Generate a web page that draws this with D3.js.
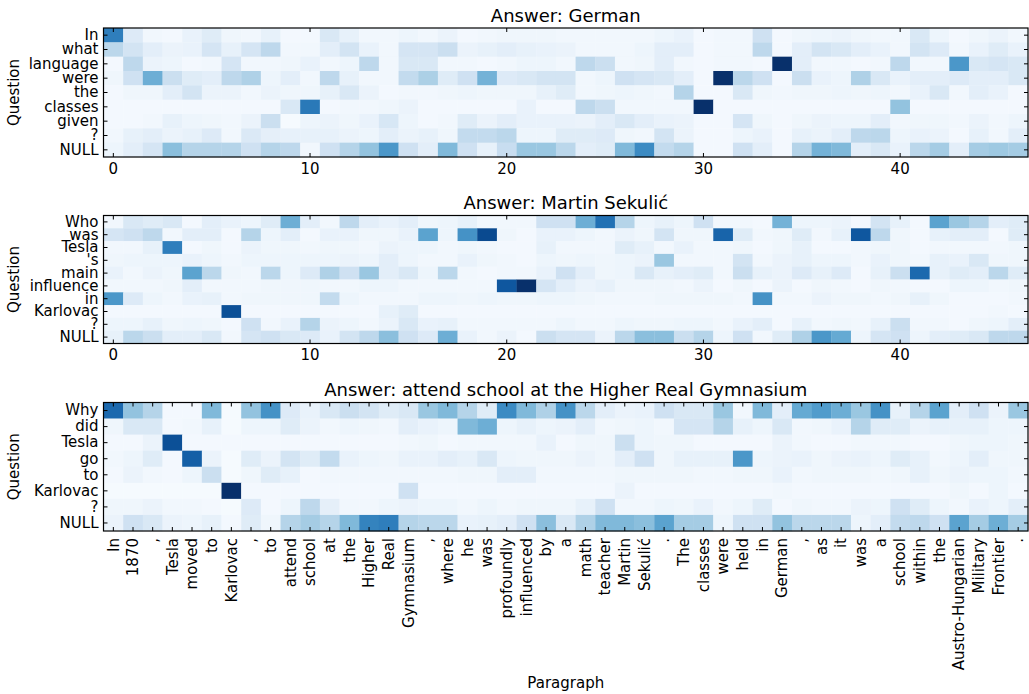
<!DOCTYPE html>
<html>
<head>
<meta charset="utf-8">
<script src="https://cdn.jsdelivr.net/npm/d3@7"></script>
<style>
  html, body { margin: 0; padding: 0; background: #fff; }
  svg { display: block; font-family: "DejaVu Sans", sans-serif; }
</style>
</head>
<body>
<svg id="chart" width="1029" height="694"></svg>
<script>
// Attention heatmaps: question words (rows) vs. paragraph tokens (columns)
const paragraphTokens = ['In', '1870', ',', 'Tesla', 'moved', 'to', 'Karlovac', ',', 'to', 'attend',
  'school', 'at', 'the', 'Higher', 'Real', 'Gymnasium', ',', 'where', 'he', 'was', 'profoundly',
  'influenced', 'by', 'a', 'math', 'teacher', 'Martin', 'Sekulić', '.', 'The', 'classes', 'were',
  'held', 'in', 'German', ',', 'as', 'it', 'was', 'a', 'school', 'within', 'the', 'Austro-Hungarian',
  'Military', 'Frontier', '.'];

const numberTicks = [0, 10, 20, 30, 40];

const germanTitle = 'Answer: German';
const germanQuestion = ['In', 'what', 'language', 'were', 'the', 'classes', 'given', '?', 'NULL'];
const germanWeights = [
  [0.7,0.13,0.03,0.02,0.07,0.12,0.04,0.03,0.08,0.02,0.02,0.15,0.08,0.03,0.03,0.05,
   0.03,0.06,0.02,0.03,0.04,0.04,0.04,0.03,0.03,0.03,0.03,0.03,0.05,0.07,0.02,
   0.03,0.03,0.2,0.02,0.04,0.05,0.06,0.04,0.03,0.03,0.15,0.05,0.02,0.04,0.06,0.03],
  [0.28,0.18,0.1,0.06,0.07,0.17,0.08,0.17,0.27,0.03,0.03,0.1,0.18,0.07,0.03,0.17,
   0.17,0.22,0.06,0.08,0.1,0.08,0.07,0.06,0.03,0.03,0.03,0.05,0.1,0.1,0.02,
   0.03,0.03,0.27,0.02,0.1,0.18,0.15,0.1,0.07,0.03,0.18,0.13,0.03,0.07,0.12,0.07],
  [0.02,0.27,0.06,0.05,0.02,0.03,0.17,0.03,0.03,0.04,0.07,0.03,0.05,0.27,0.03,0.15,
   0.15,0.03,0.03,0.02,0.03,0.05,0.05,0.03,0.27,0.22,0.03,0.04,0.1,0.03,0.02,
   0.03,0.03,0.02,1.0,0.1,0.03,0.03,0.02,0.03,0.27,0.03,0.03,0.6,0.15,0.17,0.15],
  [0.04,0.2,0.5,0.22,0.12,0.1,0.27,0.32,0.05,0.1,0.03,0.27,0.08,0.03,0.03,0.25,
   0.33,0.12,0.2,0.48,0.13,0.15,0.18,0.18,0.03,0.05,0.2,0.17,0.15,0.1,0.02,
   1.0,0.28,0.2,0.02,0.22,0.07,0.05,0.32,0.15,0.07,0.1,0.1,0.13,0.1,0.1,0.15],
  [0.02,0.04,0.04,0.1,0.18,0.06,0.06,0.03,0.06,0.04,0.04,0.08,0.15,0.06,0.02,0.03,
   0.03,0.04,0.05,0.04,0.04,0.04,0.08,0.12,0.03,0.04,0.05,0.04,0.03,0.3,0.02,
   0.02,0.15,0.04,0.03,0.04,0.04,0.05,0.04,0.05,0.03,0.07,0.15,0.03,0.1,0.07,0.02],
  [0.02,0.02,0.02,0.02,0.02,0.02,0.02,0.02,0.02,0.15,0.72,0.02,0.03,0.03,0.04,0.06,
   0.02,0.02,0.02,0.02,0.02,0.07,0.02,0.02,0.27,0.22,0.03,0.03,0.03,0.03,1.0,
   0.02,0.02,0.02,0.02,0.02,0.02,0.02,0.02,0.02,0.4,0.02,0.02,0.02,0.02,0.02,0.02],
  [0.02,0.02,0.03,0.08,0.05,0.04,0.03,0.06,0.22,0.01,0.05,0.06,0.04,0.07,0.16,0.05,
   0.02,0.03,0.12,0.06,0.1,0.07,0.07,0.07,0.06,0.1,0.15,0.1,0.07,0.06,0.02,
   0.02,0.17,0.04,0.02,0.04,0.06,0.05,0.05,0.1,0.03,0.04,0.04,0.03,0.06,0.03,0.05],
  [0.03,0.08,0.1,0.06,0.08,0.13,0.03,0.14,0.09,0.08,0.08,0.08,0.06,0.05,0.1,0.06,
   0.08,0.04,0.25,0.25,0.28,0.05,0.05,0.12,0.12,0.13,0.04,0.03,0.18,0.06,0.02,
   0.02,0.05,0.07,0.02,0.08,0.06,0.1,0.27,0.28,0.05,0.07,0.06,0.02,0.08,0.03,0.1],
  [0.05,0.1,0.17,0.42,0.3,0.3,0.3,0.2,0.3,0.27,0.03,0.2,0.3,0.4,0.6,0.2,
   0.1,0.45,0.2,0.08,0.23,0.38,0.38,0.28,0.1,0.12,0.45,0.65,0.25,0.3,0.02,
   0.02,0.2,0.1,0.02,0.3,0.48,0.45,0.1,0.15,0.07,0.28,0.35,0.1,0.35,0.37,0.35]
];

const sekulicTitle = 'Answer: Martin Sekulić';
const sekulicQuestion = ['Who', 'was', 'Tesla', "'s", 'main', 'influence', 'in', 'Karlovac', '?', 'NULL'];
const sekulicWeights = [
  [0.03,0.15,0.12,0.15,0.02,0.1,0.07,0.05,0.12,0.5,0.1,0.03,0.27,0.1,0.07,0.1,
   0.04,0.05,0.08,0.03,0.03,0.03,0.2,0.2,0.5,0.75,0.3,0.05,0.08,0.05,0.2,
   0.03,0.03,0.02,0.48,0.05,0.05,0.06,0.02,0.18,0.08,0.02,0.55,0.38,0.3,0.1,0.12],
  [0.17,0.2,0.27,0.03,0.1,0.1,0.02,0.3,0.05,0.1,0.02,0.07,0.07,0.04,0.04,0.07,
   0.55,0.05,0.62,0.9,0.04,0.02,0.07,0.07,0.05,0.03,0.06,0.04,0.18,0.04,0.04,
   0.8,0.12,0.03,0.04,0.12,0.03,0.08,0.85,0.27,0.04,0.02,0.08,0.1,0.1,0.02,0.12],
  [0.03,0.03,0.08,0.7,0.02,0.04,0.02,0.06,0.04,0.04,0.03,0.04,0.04,0.03,0.06,0.05,
   0.05,0.03,0.04,0.03,0.02,0.02,0.08,0.03,0.03,0.03,0.12,0.08,0.03,0.07,0.03,
   0.03,0.04,0.02,0.04,0.08,0.02,0.02,0.03,0.04,0.04,0.02,0.03,0.03,0.03,0.03,0.04],
  [0.04,0.05,0.05,0.05,0.07,0.05,0.03,0.05,0.05,0.05,0.05,0.05,0.06,0.05,0.1,0.05,
   0.03,0.03,0.07,0.04,0.03,0.02,0.05,0.04,0.05,0.04,0.05,0.06,0.38,0.03,0.03,
   0.03,0.18,0.03,0.06,0.08,0.05,0.05,0.03,0.07,0.04,0.03,0.08,0.07,0.15,0.04,0.04],
  [0.07,0.03,0.06,0.04,0.55,0.28,0.04,0.03,0.28,0.05,0.13,0.32,0.2,0.38,0.1,0.15,
   0.05,0.28,0.03,0.02,0.03,0.03,0.07,0.2,0.1,0.04,0.05,0.15,0.08,0.1,0.12,
   0.03,0.22,0.08,0.06,0.13,0.08,0.13,0.02,0.08,0.22,0.78,0.08,0.12,0.1,0.28,0.12],
  [0.03,0.03,0.03,0.04,0.1,0.03,0.03,0.03,0.04,0.04,0.04,0.03,0.03,0.05,0.05,0.03,
   0.03,0.03,0.03,0.03,0.85,1.0,0.17,0.1,0.06,0.08,0.04,0.04,0.04,0.03,0.06,
   0.02,0.04,0.02,0.06,0.02,0.04,0.03,0.02,0.04,0.03,0.02,0.02,0.05,0.05,0.03,0.04],
  [0.6,0.13,0.05,0.03,0.07,0.08,0.03,0.04,0.04,0.04,0.04,0.25,0.05,0.03,0.03,0.03,
   0.05,0.05,0.04,0.05,0.04,0.04,0.05,0.05,0.04,0.03,0.03,0.03,0.04,0.04,0.04,
   0.04,0.03,0.62,0.03,0.03,0.06,0.04,0.04,0.03,0.04,0.08,0.04,0.02,0.02,0.02,0.03],
  [0.02,0.02,0.02,0.02,0.02,0.02,0.88,0.02,0.02,0.02,0.02,0.02,0.02,0.02,0.08,0.12,
   0.02,0.02,0.02,0.02,0.02,0.02,0.02,0.02,0.02,0.02,0.02,0.02,0.02,0.02,0.02,
   0.02,0.02,0.02,0.02,0.02,0.02,0.02,0.02,0.02,0.02,0.02,0.02,0.02,0.02,0.03,0.02],
  [0.05,0.05,0.08,0.04,0.05,0.04,0.02,0.2,0.03,0.07,0.3,0.06,0.05,0.03,0.06,0.15,
   0.07,0.08,0.03,0.03,0.03,0.03,0.03,0.05,0.03,0.03,0.05,0.04,0.04,0.05,0.05,
   0.03,0.07,0.1,0.02,0.08,0.03,0.04,0.03,0.08,0.22,0.03,0.03,0.02,0.04,0.05,0.1],
  [0.08,0.28,0.22,0.1,0.1,0.15,0.03,0.17,0.2,0.15,0.13,0.07,0.18,0.27,0.42,0.2,
   0.13,0.5,0.07,0.03,0.06,0.02,0.22,0.17,0.17,0.06,0.28,0.42,0.42,0.22,0.3,
   0.05,0.2,0.03,0.12,0.32,0.6,0.52,0.05,0.17,0.2,0.05,0.1,0.12,0.15,0.27,0.27]
];

const schoolTitle = 'Answer: attend school at the Higher Real Gymnasium';
const schoolQuestion = ['Why', 'did', 'Tesla', 'go', 'to', 'Karlovac', '?', 'NULL'];
const schoolWeights = [
  [0.78,0.4,0.3,0.02,0.02,0.45,0.01,0.4,0.62,0.13,0.07,0.15,0.22,0.18,0.12,0.15,
   0.38,0.45,0.3,0.12,0.65,0.45,0.32,0.62,0.28,0.1,0.06,0.07,0.2,0.15,0.15,
   0.38,0.03,0.45,0.1,0.52,0.58,0.5,0.38,0.62,0.08,0.3,0.55,0.1,0.2,0.06,0.38],
  [0.04,0.15,0.15,0.02,0.03,0.08,0.01,0.05,0.05,0.12,0.06,0.03,0.05,0.04,0.03,0.1,
   0.07,0.05,0.45,0.5,0.05,0.08,0.05,0.06,0.1,0.03,0.04,0.05,0.03,0.17,0.17,
   0.3,0.08,0.05,0.15,0.03,0.04,0.07,0.3,0.12,0.12,0.06,0.08,0.08,0.08,0.05,0.05],
  [0.02,0.02,0.06,0.88,0.02,0.02,0.02,0.02,0.02,0.02,0.02,0.02,0.02,0.02,0.02,0.03,
   0.04,0.02,0.03,0.03,0.03,0.03,0.07,0.02,0.04,0.04,0.22,0.05,0.04,0.04,0.02,
   0.02,0.02,0.02,0.06,0.03,0.02,0.02,0.03,0.03,0.03,0.02,0.02,0.04,0.05,0.05,0.04],
  [0.03,0.05,0.12,0.02,0.82,0.06,0.01,0.12,0.06,0.18,0.12,0.25,0.07,0.05,0.04,0.07,
   0.07,0.1,0.08,0.15,0.05,0.04,0.04,0.04,0.06,0.04,0.1,0.2,0.04,0.08,0.08,
   0.08,0.6,0.05,0.06,0.07,0.04,0.06,0.07,0.05,0.12,0.08,0.03,0.05,0.1,0.04,0.04],
  [0.02,0.06,0.03,0.02,0.05,0.22,0.01,0.04,0.12,0.08,0.02,0.03,0.03,0.03,0.03,0.03,
   0.03,0.03,0.04,0.04,0.1,0.1,0.03,0.03,0.03,0.03,0.04,0.04,0.04,0.04,0.03,
   0.03,0.04,0.04,0.07,0.03,0.04,0.04,0.04,0.03,0.04,0.08,0.04,0.06,0.05,0.05,0.03],
  [0.01,0.01,0.01,0.01,0.01,0.01,1.0,0.02,0.02,0.02,0.02,0.02,0.02,0.02,0.02,0.2,
   0.02,0.02,0.02,0.02,0.02,0.02,0.02,0.02,0.02,0.02,0.06,0.02,0.02,0.02,0.02,
   0.02,0.02,0.02,0.03,0.02,0.02,0.02,0.02,0.02,0.02,0.02,0.02,0.04,0.02,0.05,0.02],
  [0.04,0.04,0.06,0.03,0.03,0.02,0.01,0.13,0.02,0.05,0.27,0.09,0.03,0.03,0.05,0.06,
   0.05,0.05,0.03,0.05,0.03,0.04,0.04,0.04,0.08,0.2,0.03,0.03,0.05,0.04,0.07,
   0.03,0.05,0.12,0.02,0.04,0.03,0.03,0.06,0.05,0.2,0.12,0.05,0.03,0.07,0.05,0.1],
  [0.06,0.2,0.15,0.06,0.05,0.08,0.02,0.12,0.04,0.3,0.35,0.3,0.45,0.68,0.7,0.3,
   0.28,0.28,0.07,0.08,0.1,0.2,0.42,0.15,0.32,0.45,0.45,0.42,0.55,0.35,0.35,
   0.05,0.2,0.2,0.4,0.28,0.28,0.28,0.05,0.1,0.25,0.27,0.2,0.55,0.35,0.5,0.35]
];

(function () {
  const svg = d3.select('#chart');
  const plotLeft = 103.5, plotRight = 1028;
  const fontSize = 15;
  const tickLen = 4;

  const x = d3.scaleBand().domain(d3.range(paragraphTokens.length)).range([plotLeft, plotRight]);
  const color = d3.scaleSequential(d3.interpolateBlues).domain([0, 1]);

  const panels = [
    { title: germanTitle, rows: germanQuestion, weights: germanWeights, top: 28, bottom: 157, words: false },
    { title: sekulicTitle, rows: sekulicQuestion, weights: sekulicWeights, top: 215.5, bottom: 343.5, words: false },
    { title: schoolTitle, rows: schoolQuestion, weights: schoolWeights, top: 402.5, bottom: 531, words: true }
  ];

  const styleAxis = ax => {
    ax.select('.domain').remove();
    ax.selectAll('line').attr('stroke', '#000').attr('stroke-width', 1);
    ax.selectAll('text').attr('font-size', fontSize).attr('fill', '#000')
      .attr('font-family', '"DejaVu Sans", sans-serif');
  };

  panels.forEach(p => {
    const g = svg.append('g');
    const y = d3.scaleBand().domain(d3.range(p.rows.length)).range([p.top, p.bottom]);

    // cells
    p.weights.forEach((row, i) => {
      g.selectAll(null).data(row).join('rect')
        .attr('x', (v, j) => x(j))
        .attr('y', y(i))
        .attr('width', x.bandwidth() + 0.3)
        .attr('height', y.bandwidth() + 0.3)
        .attr('fill', v => color(v));
    });

    // column ticks (inward, top and bottom)
    const colTicks = p.words ? d3.range(paragraphTokens.length) : numberTicks;
    const bottomAxis = d3.axisBottom(x).tickValues(colTicks).tickSizeInner(-tickLen).tickSizeOuter(0);
    if (p.words) bottomAxis.tickFormat(i => paragraphTokens[i]).tickPadding(7);
    else bottomAxis.tickPadding(6);

    const bottomG = g.append('g').attr('transform', 'translate(0,' + p.bottom + ')').call(bottomAxis).call(styleAxis);
    if (p.words) {
      bottomG.selectAll('text')
        .attr('y', 0).attr('x', -7).attr('dy', '0.35em')
        .attr('transform', 'rotate(-90)')
        .attr('text-anchor', 'end');
    }
    g.append('g').attr('transform', 'translate(0,' + p.top + ')')
      .call(d3.axisTop(x).tickValues(colTicks).tickSizeInner(-tickLen).tickSizeOuter(0).tickFormat(''))
      .call(styleAxis);

    // row ticks (inward, left with labels, right plain)
    g.append('g').attr('transform', 'translate(' + plotLeft + ',0)')
      .call(d3.axisLeft(y).tickSizeInner(-tickLen).tickSizeOuter(0).tickPadding(5).tickFormat(i => p.rows[i]))
      .call(styleAxis);
    g.append('g').attr('transform', 'translate(' + plotRight + ',0)')
      .call(d3.axisRight(y).tickSizeInner(-tickLen).tickSizeOuter(0).tickFormat(''))
      .call(styleAxis);

    // frame
    g.append('rect')
      .attr('x', plotLeft).attr('y', p.top)
      .attr('width', plotRight - plotLeft).attr('height', p.bottom - p.top)
      .attr('fill', 'none').attr('stroke', '#000').attr('stroke-width', 1.2);

    // title and y label
    g.append('text')
      .attr('x', (plotLeft + plotRight) / 2).attr('y', p.top - 6.5)
      .attr('text-anchor', 'middle').attr('font-size', 18).attr('fill', '#000')
      .text(p.title);
    g.append('text')
      .attr('transform', 'translate(19,' + (p.top + p.bottom) / 2 + ') rotate(-90)')
      .attr('text-anchor', 'middle').attr('font-size', fontSize).attr('fill', '#000')
      .text('Question');
  });

  svg.append('text')
    .attr('x', (plotLeft + plotRight) / 2).attr('y', 688)
    .attr('text-anchor', 'middle').attr('font-size', fontSize).attr('fill', '#000')
    .text('Paragraph');
})();
</script>
</body>
</html>
